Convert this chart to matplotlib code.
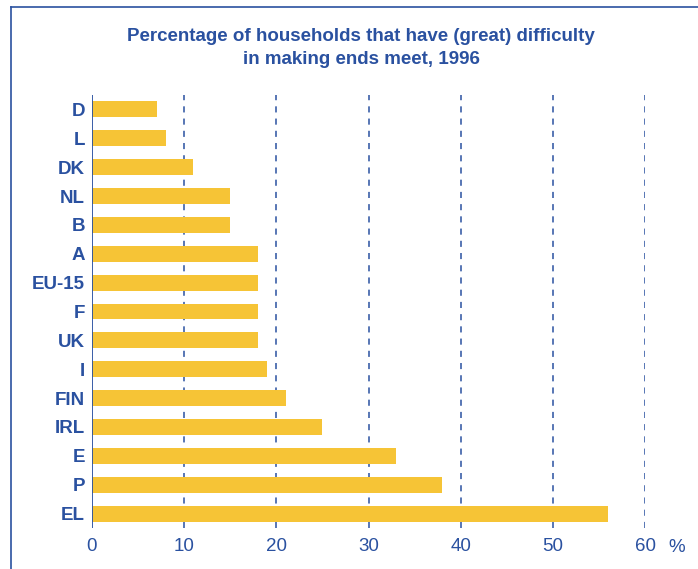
import matplotlib.pyplot as plt
from matplotlib.lines import Line2D

countries = ["D", "L", "DK", "NL", "B", "A", "EU-15", "F", "UK", "I",
             "FIN", "IRL", "E", "P", "EL"]
values = [7, 8, 11, 15, 15, 18, 18, 18, 18, 19, 21, 25, 33, 38, 56]
xticks = [0, 10, 20, 30, 40, 50, 60]

blue = "#2A51A0"
yellow = "#F6C436"

plt.rcParams["font.family"] = ["Liberation Sans", "DejaVu Sans"]

fig = plt.figure(figsize=(6.98, 5.69), dpi=100)
ax = fig.add_axes([92 / 698, 1 - 528 / 569, (645 - 92) / 698, (528 - 95) / 569])

ypos = list(range(len(countries)))
ax.barh(ypos, values, height=0.55, color=yellow, zorder=2)

ax.set_xlim(0, 60)
ax.set_ylim(len(countries) - 0.5, -0.5)
for x in xticks[1:]:
    ax.axvline(x, color=blue, lw=1.1, ls=(0, (4, 4)), zorder=1)
ax.axvline(0, color=blue, lw=1.3, zorder=3)

for s in ax.spines.values():
    s.set_visible(False)
ax.set_xticks(xticks)
ax.set_xticklabels([str(x) for x in xticks], color=blue, fontsize=13.5)
ax.set_yticks(ypos)
ax.set_yticklabels(countries, color=blue, fontsize=13.5, fontweight="bold")
ax.tick_params(axis="both", length=0)
ax.tick_params(axis="x", pad=7)
ax.tick_params(axis="y", pad=5)

fig.text(677 / 698, 1 - 547 / 569, "%", color=blue, fontsize=13.5,
         ha="center", va="center")

fig.text(361 / 698, 1 - 48 / 569,
         "Percentage of households that have (great) difficulty\nin making ends meet, 1996",
         color=blue, fontsize=13.5, fontweight="bold", ha="center", va="center",
         linespacing=1.4)

# frame lines (left and top)
fig.add_artist(Line2D([11 / 698, 11 / 698], [0, 1 - 7 / 569], color=blue, lw=1.2,
                      transform=fig.transFigure))
fig.add_artist(Line2D([11 / 698, 1], [1 - 7 / 569, 1 - 7 / 569], color=blue, lw=1.2,
                      transform=fig.transFigure))

fig.savefig("out.png", dpi=100)
